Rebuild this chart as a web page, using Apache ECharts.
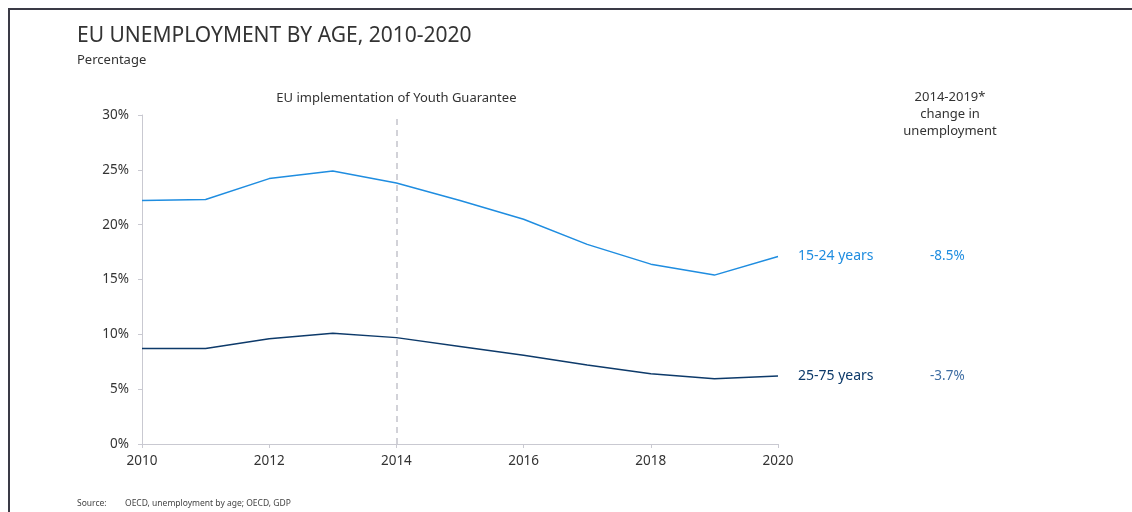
<!DOCTYPE html>
<html>
<head>
<meta charset="utf-8">
<script src="https://cdn.jsdelivr.net/npm/echarts@6/dist/echarts.min.js"></script>
<style>
  html, body { margin: 0; padding: 0; background: #fff; }
  #chart { width: 1132px; height: 512px; }
</style>
</head>
<body>
<div id="chart"></div>
<script>
// Unemployment rate (%) by age group, EU, 2010-2020
const years = [2010, 2011, 2012, 2013, 2014, 2015, 2016, 2017, 2018, 2019, 2020];
const youth = [22.2, 22.3, 24.2, 24.9, 23.8, 22.2, 20.5, 18.2, 16.4, 15.4, 17.1];
const adults = [8.7, 8.7, 9.6, 10.1, 9.7, 8.9, 8.1, 7.2, 6.4, 5.95, 6.2];
const seriesNames = ['15-24 years', '25-75 years'];
const changes = ['-8.5%', '-3.7%'];
const guaranteeYear = 2014;
const yTicks = [0, 5, 10, 15, 20, 25, 30];

const FONT = '"Noto Sans", "DejaVu Sans", sans-serif';
const YOUTH_COLOR = '#1f8de0';
const ADULT_COLOR = '#0d3a6a';

function pairs(vals) { return years.map((y, i) => [y, vals[i]]); }

function endLabel(nameColor, chgColor, idx) {
  return {
    show: true,
    distance: 20,
    fontFamily: FONT,
    formatter: '{n|' + seriesNames[idx] + '}{c|' + changes[idx] + '}',
    rich: {
      n: { color: nameColor, fontSize: 14, fontFamily: FONT, width: 132 },
      c: { color: chgColor, fontSize: 13.5, fontFamily: FONT }
    }
  };
}

const chart = echarts.init(document.getElementById('chart'), null, { renderer: 'canvas' });
chart.setOption({
  animation: false,
  backgroundColor: '#fff',
  textStyle: { fontFamily: FONT },
  title: [
    {
      text: 'EU UNEMPLOYMENT BY AGE, 2010-2020',
      left: 72, top: 21,
      textStyle: { fontFamily: FONT, fontSize: 21, fontWeight: 'normal', color: '#333' }
    },
    {
      text: 'Percentage',
      left: 72, top: 49,
      textStyle: { fontFamily: FONT, fontSize: 13, fontWeight: 'normal', color: '#333' }
    },
    {
      text: '2014-2019*\nchange in\nunemployment',
      left: 945, top: 84, textAlign: 'center',
      textStyle: { fontFamily: FONT, fontSize: 13, fontWeight: 'normal', color: '#333', lineHeight: 17, align: 'center' }
    },
    {
      text: 'Source:',
      left: 72, top: 494,
      textStyle: { fontFamily: FONT, fontSize: 8.5, fontWeight: 'normal', color: '#444' }
    },
    {
      text: 'OECD, unemployment by age; OECD, GDP',
      left: 120, top: 494,
      textStyle: { fontFamily: FONT, fontSize: 8.5, fontWeight: 'normal', color: '#444' }
    }
  ],
  graphic: [
    {
      type: 'polyline',
      shape: { points: [[9, 520], [9, 9], [1140, 9]] },
      style: { stroke: '#3a3a46', lineWidth: 2, fill: null },
      silent: true
    }
  ],
  grid: { left: 142, right: 354, top: 115, bottom: 68, containLabel: false },
  xAxis: {
    type: 'value',
    min: 2010, max: 2020, interval: 2,
    axisLine: { show: true, lineStyle: { color: '#c9c9d1', width: 1 } },
    axisTick: { show: true, length: 4, lineStyle: { color: '#c9c9d1' } },
    splitLine: { show: false },
    axisLabel: { color: '#333', fontSize: 13.5, fontFamily: FONT, margin: 10, formatter: v => String(v) }
  },
  yAxis: {
    type: 'value',
    min: yTicks[0], max: yTicks[yTicks.length - 1], interval: 5,
    axisLine: { show: true, lineStyle: { color: '#c9c9d1', width: 1 } },
    axisTick: { show: true, length: 4, lineStyle: { color: '#c9c9d1' } },
    splitLine: { show: false },
    axisLabel: { color: '#333', fontSize: 13.5, fontFamily: FONT, margin: 13, formatter: '{value}%' }
  },
  series: [
    {
      name: seriesNames[0],
      type: 'line',
      data: pairs(youth),
      symbol: 'none',
      lineStyle: { color: YOUTH_COLOR, width: 1.5 },
      itemStyle: { color: YOUTH_COLOR },
      endLabel: endLabel(YOUTH_COLOR, YOUTH_COLOR, 0),
      markLine: {
        silent: true,
        symbol: 'none',
        lineStyle: { color: '#c4c4cc', type: [6, 5], width: 1.5 },
        label: {
          show: true, position: 'end', distance: 10,
          formatter: 'EU implementation of Youth Guarantee',
          color: '#333', fontSize: 13, fontFamily: FONT
        },
        data: [{ xAxis: guaranteeYear }]
      }
    },
    {
      name: seriesNames[1],
      type: 'line',
      data: pairs(adults),
      symbol: 'none',
      lineStyle: { color: ADULT_COLOR, width: 1.5 },
      itemStyle: { color: ADULT_COLOR },
      endLabel: endLabel(ADULT_COLOR, '#3f6ea3', 1)
    }
  ]
});
</script>
</body>
</html>
